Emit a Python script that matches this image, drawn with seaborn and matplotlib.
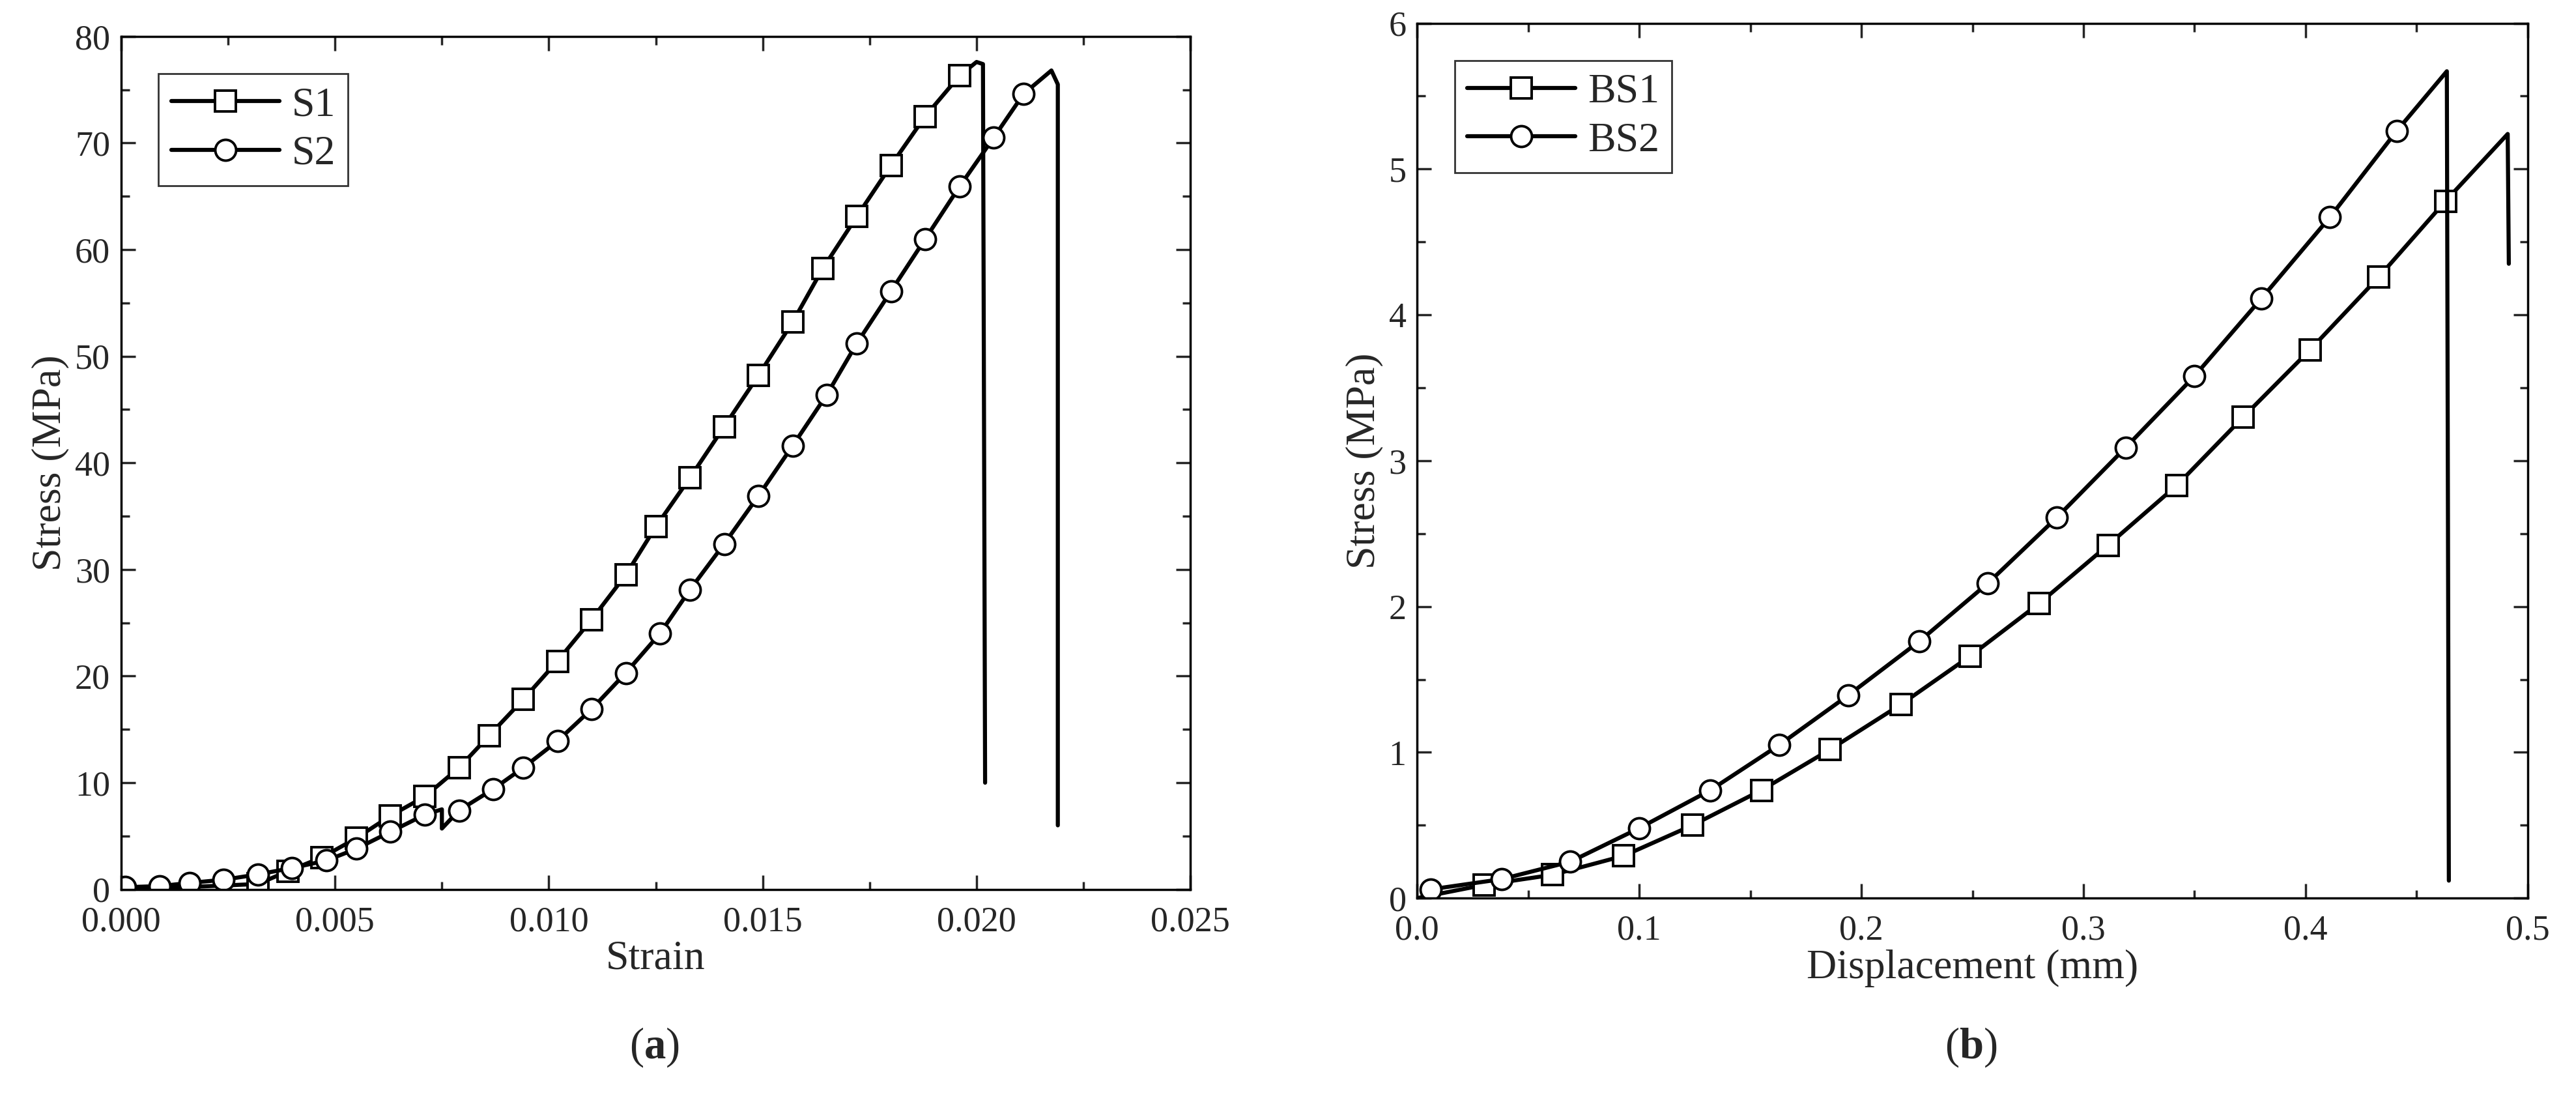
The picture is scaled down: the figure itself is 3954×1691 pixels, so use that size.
import matplotlib
matplotlib.use("Agg")
import matplotlib.pyplot as plt
import pandas as pd
import seaborn as sns
from matplotlib.ticker import AutoMinorLocator

# panel (a): strain vs stress
s1_strain = [0.0, 0.0015, 0.0032, 0.0039, 0.0047, 0.0055, 0.0063, 0.0071, 0.0079, 0.0086, 0.0094,
             0.0102, 0.0110, 0.0118, 0.0125, 0.0133, 0.0141, 0.0149, 0.0157, 0.0164, 0.0172,
             0.0180, 0.0188, 0.0196, 0.0200, 0.02015, 0.0202]
s1_stress = [0.0, 0.2, 0.5, 1.7, 3.0, 4.8, 6.9, 8.7, 11.4, 14.4, 17.8,
             21.4, 25.3, 29.5, 34.0, 38.6, 43.4, 48.2, 53.2, 58.2, 63.1,
             67.9, 72.5, 76.3, 77.6, 77.4, 10.0]
s1_marks = list(range(2, 24))

s2_strain = [0.0001, 0.0009, 0.0016, 0.0024, 0.0032, 0.0040, 0.0048, 0.0055, 0.0063, 0.0071,
             0.0075, 0.0075, 0.0079, 0.0087, 0.0094, 0.0102, 0.0110, 0.0118, 0.0126, 0.0133,
             0.0141, 0.0149, 0.0157, 0.0165, 0.0172, 0.0180, 0.0188, 0.0196, 0.0204, 0.0211,
             0.02175, 0.0219, 0.0219]
s2_stress = [0.2, 0.3, 0.6, 0.9, 1.4, 2.0, 2.7, 3.8, 5.4, 7.0,
             7.5, 5.7, 7.4, 9.4, 11.4, 13.9, 16.9, 20.3, 24.0, 28.1,
             32.4, 36.9, 41.6, 46.4, 51.2, 56.1, 61.0, 65.9, 70.5, 74.6,
             76.8, 75.5, 6.0]
s2_marks = list(range(0, 10)) + list(range(12, 30))

# panel (b): displacement vs stress
bs1_disp = [0.0, 0.030, 0.061, 0.093, 0.124, 0.155, 0.186, 0.218, 0.249, 0.280, 0.311,
            0.342, 0.372, 0.402, 0.433, 0.463, 0.491, 0.4915]
bs1_stress = [0.0, 0.09, 0.16, 0.29, 0.50, 0.74, 1.02, 1.33, 1.66, 2.02, 2.42,
              2.83, 3.30, 3.76, 4.26, 4.78, 5.24, 4.35]
bs1_marks = list(range(1, 16))

bs2_disp = [0.006, 0.038, 0.069, 0.100, 0.132, 0.163, 0.194, 0.226, 0.257, 0.288, 0.319,
            0.350, 0.380, 0.411, 0.441, 0.4636, 0.4645]
bs2_stress = [0.06, 0.13, 0.25, 0.48, 0.74, 1.05, 1.39, 1.76, 2.16, 2.61, 3.09,
              3.58, 4.11, 4.67, 5.26, 5.67, 0.12]
bs2_marks = list(range(0, 15))

sns.set_style("white")
plt.rcParams["font.family"] = ["Liberation Serif", "DejaVu Serif"]
plt.rcParams["mathtext.fontset"] = "custom"
plt.rcParams["mathtext.rm"] = "Liberation Serif"
plt.rcParams["mathtext.bf"] = "Liberation Serif:bold"

fig = plt.figure(figsize=(39.55, 16.91), dpi=100)
ax_a = fig.add_axes([0.047, 0.193, 0.415, 0.774])
ax_b = fig.add_axes([0.550, 0.185, 0.431, 0.794])

line_kw = dict(color="black", linewidth=4.5, markersize=23, markerfacecolor="white",
               markeredgecolor="black", markeredgewidth=2.8, estimator=None, sort=False)


def draw(ax, x, y, marks, marker, label):
    df = pd.DataFrame({"x": x, "y": y})
    sns.lineplot(data=df, x="x", y="y", ax=ax, marker=marker, markevery=marks,
                 label=label, **line_kw)


draw(ax_a, s1_strain, s1_stress, s1_marks, "s", "S1")
draw(ax_a, s2_strain, s2_stress, s2_marks, "o", "S2")
draw(ax_b, bs1_disp, bs1_stress, bs1_marks, "s", "BS1")
draw(ax_b, bs2_disp, bs2_stress, bs2_marks, "o", "BS2")

ax_a.set_xlim(0, 0.025)
ax_a.set_ylim(0, 80)
ax_a.set_xticks([0, 0.005, 0.010, 0.015, 0.020, 0.025])
ax_a.set_xticklabels(["0.000", "0.005", "0.010", "0.015", "0.020", "0.025"])
ax_a.set_xlabel("Strain", fontsize=46, labelpad=2)
ax_a.set_ylabel("Stress (MPa)", fontsize=46, labelpad=6)

ax_b.set_xlim(0, 0.5)
ax_b.set_ylim(0, 6)
ax_b.set_xlabel("Displacement (mm)", fontsize=46, labelpad=2)
ax_b.set_ylabel("Stress (MPa)", fontsize=46, labelpad=6)

for ax in (ax_a, ax_b):
    for sp in ax.spines.values():
        sp.set_color("black")
        sp.set_linewidth(2.5)
    ax.xaxis.set_minor_locator(AutoMinorLocator(2))
    ax.yaxis.set_minor_locator(AutoMinorLocator(2))
    ax.tick_params(which="both", direction="in", top=True, right=True,
                   bottom=True, left=True, width=2.5, labelsize=39)
    ax.tick_params(axis="x", pad=18)
    ax.tick_params(axis="y", pad=12)
    ax.tick_params(which="major", length=16)
    ax.tick_params(which="minor", length=9)
    leg = ax.legend(loc="upper left", fontsize=46, frameon=True, fancybox=False,
                    edgecolor="black", handlelength=2.6, borderpad=0.3,
                    labelspacing=0.25, handletextpad=0.3, borderaxespad=0.9)
    leg.get_frame().set_linewidth(2.0)

fig.text(0.254, 0.04, r"$\mathrm{(}\mathbf{a}\mathrm{)}$", fontsize=48, ha="center")
fig.text(0.765, 0.04, r"$\mathrm{(}\mathbf{b}\mathrm{)}$", fontsize=48, ha="center")

fig.savefig("out.png", dpi=100)
